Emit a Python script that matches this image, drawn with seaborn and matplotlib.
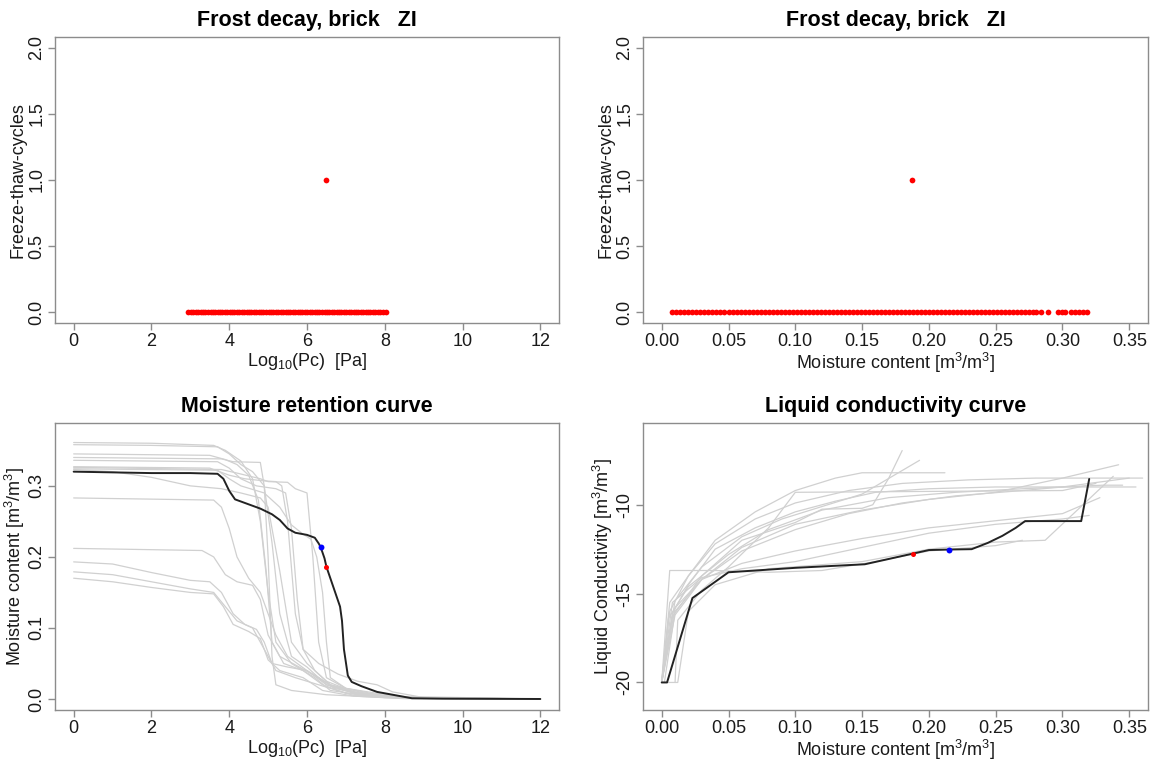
import numpy as np
import pandas as pd
import matplotlib
matplotlib.use("Agg")
import matplotlib.pyplot as plt
import seaborn as sns

# ---------------- data ----------------
# Frost decay: log10(Pc) of the simulated cases and their freeze-thaw cycles
frost_logpc = [2.95, 3.02, 3.08, 3.15, 3.2, 3.27, 3.33, 3.38, 3.45, 3.52, 3.58, 3.63, 3.7, 3.76,
               3.82, 3.88, 3.95, 4.01, 4.07, 4.13, 4.2, 4.26, 4.32, 4.38, 4.45, 4.51, 4.57, 4.63,
               4.7, 4.76, 4.82, 4.88, 4.95, 5.01, 5.07, 5.13, 5.2, 5.26, 5.32, 5.38, 5.45, 5.51,
               5.57, 5.63, 5.7, 5.76, 5.82, 5.88, 5.95, 6.01, 6.07, 6.13, 6.2, 6.26, 6.32, 6.38,
               6.45, 6.51, 6.57, 6.63, 6.7, 6.76, 6.82, 6.88, 6.95, 7.01, 7.07, 7.13, 7.2, 7.26,
               7.32, 7.38, 7.45, 7.51, 7.57, 7.63, 7.7, 7.76, 7.82, 7.88, 7.95, 8.02]
frost_logpc_cycles = [0] * len(frost_logpc)
damage_logpc = [6.5]
damage_logpc_cycles = [1]

frost_moist = [0.008, 0.011, 0.014, 0.017, 0.020, 0.023, 0.026, 0.029, 0.032, 0.035, 0.038, 0.041,
               0.044, 0.047, 0.050, 0.053, 0.056, 0.059, 0.062, 0.065, 0.068, 0.071, 0.074, 0.077,
               0.080, 0.083, 0.086, 0.089, 0.092, 0.095, 0.098, 0.101, 0.104, 0.107, 0.110, 0.113,
               0.116, 0.119, 0.122, 0.125, 0.128, 0.131, 0.134, 0.137, 0.140, 0.143, 0.146, 0.149,
               0.152, 0.155, 0.158, 0.161, 0.164, 0.167, 0.170, 0.173, 0.176, 0.179, 0.182, 0.185,
               0.188, 0.191, 0.194, 0.197, 0.200, 0.203, 0.206, 0.209, 0.212, 0.215, 0.218, 0.221,
               0.224, 0.227, 0.230, 0.233, 0.236, 0.239, 0.242, 0.245, 0.248, 0.251, 0.254, 0.257,
               0.260, 0.263, 0.266, 0.269, 0.272, 0.275, 0.278, 0.280,
               0.284, 0.289, 0.297, 0.300, 0.302, 0.306, 0.309, 0.312, 0.315, 0.318]
frost_moist_cycles = [0] * len(frost_moist)
damage_moist = [0.187]
damage_moist_cycles = [1]

# Moisture retention curve of the selected brick (log10 Pc, moisture content)
mrc_logpc = [0, 1, 2, 3, 3.7, 3.85, 4.0, 4.15, 4.4, 4.8, 5.1, 5.3, 5.5, 5.7, 6.0, 6.2, 6.3,
             6.35, 6.45, 6.5, 6.6, 6.75, 6.85, 6.9, 6.95, 7.05, 7.15, 7.4, 7.8, 8.3, 8.7, 9.5, 12]
mrc_moist = [0.320, 0.319, 0.318, 0.318, 0.317, 0.310, 0.293, 0.281, 0.276, 0.268, 0.260, 0.252,
             0.240, 0.234, 0.231, 0.227, 0.219, 0.214, 0.198, 0.186, 0.170, 0.146, 0.130, 0.110,
             0.070, 0.033, 0.024, 0.018, 0.010, 0.005, 0.001, 0.0005, 0.0]
# other bricks in the database (grey)
mrc_others = [
    [(0, .361), (2, .360), (3.6, .357), (3.9, .350), (4.3, .335), (4.6, .31), (4.8, .25), (5.0, .15),
     (5.2, .08), (5.6, .05), (6.2, .03), (6.6, .012), (7.5, .005), (8.5, .001), (12, 0)],
    [(0, .358), (2, .357), (3.7, .355), (4.0, .345), (4.3, .33), (4.6, .32), (4.9, .30), (5.1, .22),
     (5.3, .12), (5.6, .06), (6.0, .045), (6.5, .02), (7.2, .008), (8.5, .001), (12, 0)],
    [(0, .345), (3.5, .343), (3.9, .337), (4.2, .33), (4.5, .315), (4.75, .28), (4.95, .18), (5.1, .08),
     (5.4, .05), (5.9, .04), (6.4, .02), (7.0, .008), (8.0, .002), (12, 0)],
    [(0, .340), (3.8, .338), (4.1, .334), (4.8, .333), (4.9, .30), (5.0, .20), (5.1, .06), (5.2, .02),
     (5.6, .012), (6.5, .006), (8, .002), (12, 0)],
    [(0, .336), (3.7, .334), (4.0, .325), (4.3, .31), (4.7, .30), (5.2, .296), (5.45, .29), (5.6, .24),
     (5.75, .14), (5.9, .07), (6.2, .04), (6.6, .02), (7.3, .008), (8.5, .001), (12, 0)],
    [(0, .326), (3.8, .323), (4.2, .318), (4.8, .31), (5.0, .306), (5.5, .305), (5.7, .296), (6.0, .29),
     (6.15, .2), (6.3, .08), (6.5, .03), (7, .015), (7.8, .008), (8.6, .002), (12, 0)],
    [(0, .323), (1, .320), (2, .312), (3, .300), (3.8, .296), (4.3, .29), (4.8, .283), (5.0, .27),
     (5.3, .18), (5.6, .08), (6.0, .05), (6.5, .025), (7.2, .01), (8.5, .002), (12, 0)],
    [(0, .283), (3.6, .280), (3.8, .27), (4.0, .24), (4.2, .2), (4.5, .17), (4.8, .15), (5.0, .12),
     (5.2, .09), (5.5, .06), (6.0, .04), (6.6, .02), (7.5, .008), (8.5, .001), (12, 0)],
    [(0, .212), (3.3, .209), (3.6, .20), (3.9, .175), (4.2, .165), (4.6, .16), (4.8, .14), (5.0, .09),
     (5.3, .06), (5.8, .045), (6.3, .03), (6.7, .015), (7.5, .006), (8.5, .001), (12, 0)],
    [(0, .193), (1, .19), (2, .178), (3, .167), (3.5, .165), (3.8, .15), (4.1, .12), (4.4, .105),
     (4.7, .098), (4.9, .08), (5.1, .05), (5.5, .045), (6.0, .04), (6.5, .02), (7.5, .006), (8.5, .001), (12, 0)],
    [(0, .179), (1, .175), (2, .165), (3, .155), (3.6, .150), (3.9, .13), (4.2, .11), (4.6, .10),
     (4.9, .07), (5.2, .04), (5.7, .03), (6.3, .02), (7.2, .005), (8.5, .001), (12, 0)],
    [(0, .170), (1, .165), (2, .157), (3, .150), (3.6, .148), (3.85, .13), (4.1, .105), (4.5, .095),
     (4.8, .085), (5.0, .055), (5.3, .04), (5.9, .03), (6.4, .012), (7.2, .004), (8.5, .0005), (12, 0)],
    [(0, .324), (3.7, .322), (4.0, .31), (4.3, .30), (4.9, .29), (5.3, .27), (5.6, .245), (5.9, .232),
     (6.1, .225), (6.25, .2), (6.4, .15), (6.5, .08), (6.6, .03), (7.0, .015), (8.0, .004), (12, 0)],
    [(0, .327), (3.5, .325), (4.0, .315), (4.4, .31), (4.9, .307), (5.2, .306), (5.35, .30), (5.5, .25),
     (5.7, .12), (5.9, .07), (6.3, .05), (6.8, .035), (7.3, .025), (7.8, .02), (8.2, .01), (9, .002), (12, 0)],
]
mrc_blue = (6.35, 0.214)
mrc_red = (6.5, 0.186)

# Liquid conductivity curve of the selected brick (moisture content, log10 K)
lc_moist = [0.000, 0.004, 0.023, 0.050, 0.100, 0.152, 0.170, 0.188, 0.200, 0.215, 0.232, 0.244,
            0.255, 0.265, 0.272, 0.314, 0.320]
lc_cond = [-20.0, -20.0, -15.25, -13.8, -13.55, -13.35, -13.05, -12.75, -12.55, -12.52, -12.5,
           -12.15, -11.75, -11.3, -10.92, -10.92, -8.55]
lc_others = [
    [(0.0, -20), (0.008, -16.1), (0.02, -14.5), (0.04, -12.5), (0.07, -11.3), (0.10, -10.4), (0.13, -9.8),
     (0.16, -9.3), (0.2, -9.1), (0.25, -9.0), (0.3, -9.0), (0.355, -9.0)],
    [(0.0, -20), (0.006, -15.5), (0.02, -14), (0.04, -12.2), (0.07, -10.8), (0.1, -9.9), (0.14, -9.2),
     (0.18, -8.8), (0.23, -8.6), (0.28, -8.5), (0.36, -8.5)],
    [(0.002, -20), (0.01, -16), (0.03, -14.2), (0.06, -12.4), (0.1, -11.1), (0.15, -10.3), (0.2, -9.7),
     (0.25, -9.3), (0.3, -8.5), (0.342, -7.75)],
    [(0.0, -20), (0.008, -16.3), (0.03, -14), (0.06, -12), (0.1, -11), (0.12, -10.25), (0.15, -10.2),
     (0.158, -10.0), (0.17, -8.5), (0.18, -6.95)],
    [(0.0, -20), (0.01, -15.4), (0.03, -13.5), (0.06, -11.8), (0.09, -10.8), (0.12, -10.1), (0.15, -9.4),
     (0.193, -7.5)],
    [(0.0, -20), (0.006, -16), (0.02, -14), (0.04, -12.0), (0.07, -10.4), (0.1, -9.2), (0.13, -8.5),
     (0.15, -8.2), (0.212, -8.2)],
    [(0.01, -20), (0.012, -16.5), (0.03, -14.8), (0.05, -13.5), (0.08, -11.3), (0.1, -9.3), (0.2, -9.25),
     (0.3, -9.2), (0.325, -8.8)],
    [(0.0, -20), (0.005, -16.4), (0.02, -14.6), (0.05, -12.8), (0.08, -11.4), (0.12, -10.3), (0.17, -9.6),
     (0.22, -9.3), (0.27, -9.1), (0.33, -8.9), (0.345, -8.9)],
    [(0.0, -20), (0.01, -16.2), (0.03, -14.2), (0.06, -12.6), (0.1, -11.4), (0.14, -10.5), (0.18, -9.9),
     (0.22, -9.5), (0.27, -9.2), (0.3, -9.0), (0.35, -8.5)],
    [(0.0, -20), (0.01, -15.8), (0.03, -14.2), (0.06, -13.3), (0.1, -12.6), (0.15, -11.9), (0.2, -11.3),
     (0.25, -10.9), (0.3, -10.5), (0.328, -9.6)],
    [(0.0, -20), (0.012, -20), (0.02, -16), (0.04, -14.5), (0.08, -13.6), (0.15, -13.2), (0.2, -12.5),
     (0.25, -12.1), (0.287, -12.0), (0.338, -8.4)],
    [(0.0, -20), (0.008, -15.5), (0.03, -14.1), (0.06, -13.6), (0.1, -13.2), (0.15, -12.4), (0.2, -11.6),
     (0.25, -11.1), (0.3, -10.8), (0.32, -10.6)],
    [(0.0, -20), (0.006, -13.7), (0.04, -13.7), (0.08, -13.8), (0.12, -13.7), (0.16, -13.2), (0.2, -12.6),
     (0.25, -12.3), (0.27, -12.0)],
]
lc_blue = (0.215, -12.52)
lc_red = (0.188, -12.75)

# ---------------- style ----------------
sns.set_style("white")
plt.rcParams["font.family"] = ["Liberation Sans", "DejaVu Sans"]
plt.rcParams["mathtext.fontset"] = "custom"
plt.rcParams["mathtext.rm"] = "Liberation Sans"
plt.rcParams["mathtext.it"] = "Liberation Sans:italic"
plt.rcParams["mathtext.bf"] = "Liberation Sans:bold"

FRAME = "#8c8c8c"
TXT = "#1a1a1a"
GREY = "#d0d0d0"
TICK_FS = 13
LAB_FS = 13
TITLE_FS = 15.5
DOT = 17

W, H = 1156, 765
fig = plt.figure(figsize=(W / 100, H / 100), dpi=100)


def box(l, r, t, b):
    return [l / W, 1 - b / H, (r - l) / W, (b - t) / H]


ax_tl = fig.add_axes(box(55, 559, 37, 323))
ax_tr = fig.add_axes(box(643, 1148, 37, 323))
ax_bl = fig.add_axes(box(55, 559, 423, 710))
ax_br = fig.add_axes(box(643, 1148, 423, 710))


def style(ax, title, xlabel, ylabel):
    for s in ax.spines.values():
        s.set_color(FRAME)
        s.set_linewidth(1.0)
    ax.tick_params(axis="both", direction="out", length=5, width=1, color=FRAME,
                   labelsize=TICK_FS, labelcolor=TXT, pad=2, bottom=True, left=True)
    ax.tick_params(axis="y", labelrotation=90)
    for lab in ax.get_yticklabels():
        lab.set_va("center")
    ax.set_title(title, fontsize=TITLE_FS, fontweight="bold", color="black", pad=8)
    ax.set_xlabel(xlabel, fontsize=LAB_FS, color=TXT, labelpad=1)
    ax.set_ylabel(ylabel, fontsize=LAB_FS, color=TXT, labelpad=1)
    ax.grid(False)


# ---- top-left: frost decay vs log10 Pc
sns.scatterplot(x=frost_logpc, y=frost_logpc_cycles, ax=ax_tl, color="red", s=DOT, linewidth=0)
sns.scatterplot(x=damage_logpc, y=damage_logpc_cycles, ax=ax_tl, color="red", s=DOT, linewidth=0)
ax_tl.set_xlim(-0.48, 12.48)
ax_tl.set_ylim(-0.08, 2.08)
ax_tl.set_xticks([0, 2, 4, 6, 8, 10, 12])
ax_tl.set_yticks([0.0, 0.5, 1.0, 1.5, 2.0])
ax_tl.set_yticklabels(["0.0", "0.5", "1.0", "1.5", "2.0"])
style(ax_tl, "Frost decay, brick   ZI", "Log$_{10}$(Pc)  [Pa]", "Freeze-thaw-cycles")

# ---- top-right: frost decay vs moisture content
sns.scatterplot(x=frost_moist, y=frost_moist_cycles, ax=ax_tr, color="red", s=DOT, linewidth=0)
sns.scatterplot(x=damage_moist, y=damage_moist_cycles, ax=ax_tr, color="red", s=DOT, linewidth=0)
ax_tr.set_xlim(-0.014, 0.364)
ax_tr.set_ylim(-0.08, 2.08)
ax_tr.set_xticks([0, 0.05, 0.1, 0.15, 0.2, 0.25, 0.3, 0.35])
ax_tr.set_xticklabels(["0.00", "0.05", "0.10", "0.15", "0.20", "0.25", "0.30", "0.35"])
ax_tr.set_yticks([0.0, 0.5, 1.0, 1.5, 2.0])
ax_tr.set_yticklabels(["0.0", "0.5", "1.0", "1.5", "2.0"])
style(ax_tr, "Frost decay, brick   ZI", "Moisture content [m$^3$/m$^3$]", "Freeze-thaw-cycles")

# ---- bottom-left: moisture retention curves
rows = []
for i, curve in enumerate(mrc_others):
    for x, y in curve:
        rows.append({"curve": i, "x": x, "y": y})
df_mrc = pd.DataFrame(rows)
sns.lineplot(data=df_mrc, x="x", y="y", units="curve", estimator=None, sort=False,
             color=GREY, linewidth=0.9, ax=ax_bl)
sns.lineplot(x=mrc_logpc, y=mrc_moist, sort=False, estimator=None, color="#222222",
             linewidth=1.4, ax=ax_bl)
sns.scatterplot(x=[mrc_blue[0]], y=[mrc_blue[1]], color="blue", s=18, linewidth=0, ax=ax_bl, zorder=5)
sns.scatterplot(x=[mrc_red[0]], y=[mrc_red[1]], color="red", s=13, linewidth=0, ax=ax_bl, zorder=5)
ax_bl.set_xlim(-0.48, 12.48)
ax_bl.set_ylim(-0.0155, 0.3885)
ax_bl.set_xticks([0, 2, 4, 6, 8, 10, 12])
ax_bl.set_yticks([0.0, 0.1, 0.2, 0.3])
ax_bl.set_yticklabels(["0.0", "0.1", "0.2", "0.3"])
style(ax_bl, "Moisture retention curve", "Log$_{10}$(Pc)  [Pa]", "Moisture content [m$^3$/m$^3$]")

# ---- bottom-right: liquid conductivity curves
rows = []
for i, curve in enumerate(lc_others):
    for x, y in curve:
        rows.append({"curve": i, "x": x, "y": y})
df_lc = pd.DataFrame(rows)
sns.lineplot(data=df_lc, x="x", y="y", units="curve", estimator=None, sort=False,
             color=GREY, linewidth=0.9, ax=ax_br)
sns.lineplot(x=lc_moist, y=lc_cond, sort=False, estimator=None, color="#222222",
             linewidth=1.4, ax=ax_br)
sns.scatterplot(x=[lc_blue[0]], y=[lc_blue[1]], color="blue", s=18, linewidth=0, ax=ax_br, zorder=5)
sns.scatterplot(x=[lc_red[0]], y=[lc_red[1]], color="red", s=13, linewidth=0, ax=ax_br, zorder=5)
ax_br.set_xlim(-0.014, 0.364)
ax_br.set_ylim(-21.55, -5.4)
ax_br.set_xticks([0, 0.05, 0.1, 0.15, 0.2, 0.25, 0.3, 0.35])
ax_br.set_xticklabels(["0.00", "0.05", "0.10", "0.15", "0.20", "0.25", "0.30", "0.35"])
ax_br.set_yticks([-20, -15, -10])
ax_br.set_yticklabels(["-20", "-15", "-10"])
style(ax_br, "Liquid conductivity curve", "Moisture content [m$^3$/m$^3$]",
      "Liquid Conductivity [m$^3$/m$^3$]")

fig.savefig("out.png", dpi=100, facecolor="white")
